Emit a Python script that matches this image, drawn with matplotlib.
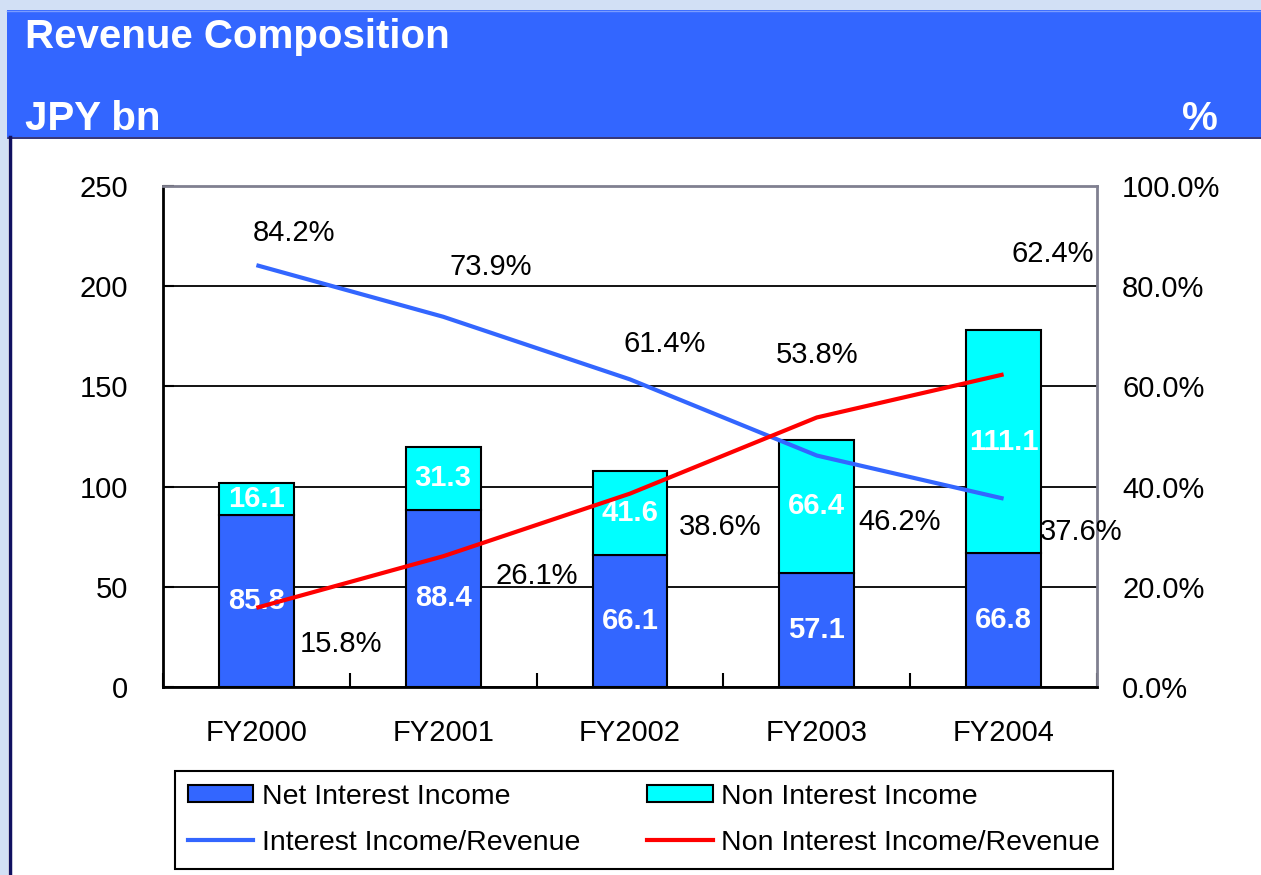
import matplotlib
matplotlib.use("Agg")
import matplotlib.pyplot as plt
from matplotlib.patches import Rectangle, Patch
from matplotlib.lines import Line2D
from matplotlib.ticker import FixedLocator, FuncFormatter

plt.rcParams['font.family'] = ['Liberation Sans', 'DejaVu Sans']

# ---- data ----
categories = ["FY2000", "FY2001", "FY2002", "FY2003", "FY2004"]
net_interest_income = [85.8, 88.4, 66.1, 57.1, 66.8]
non_interest_income = [16.1, 31.3, 41.6, 66.4, 111.1]
interest_ratio = [84.2, 73.9, 61.4, 46.2, 37.6]
non_interest_ratio = [15.8, 26.1, 38.6, 53.8, 62.4]
left_ticks = [0, 50, 100, 150, 200, 250]
right_ticks = [0, 20, 40, 60, 80, 100]

# label offsets (pixels) for percentage labels
interest_label_offsets = [(38, 32), (48, 50), (35, 35), (83, -66), (78, -33)]
non_interest_label_offsets = [(85, -36), (94, -20), (90, -33), (0, 62), (49, 120)]

W, H = 1261, 875
fig = plt.figure(figsize=(W / 100, H / 100), dpi=100)
fig.patch.set_facecolor('#D2E0F5')

BLUE = '#3366FF'
CYAN = '#00FFFF'
RED = '#FF0000'

def fx(px):
    return px / W

def fy(py):
    return 1 - py / H

# header and white panel
fig.add_artist(Rectangle((fx(7), fy(137)), 1 - fx(7), fy(10) - fy(137),
                         transform=fig.transFigure, facecolor=BLUE, edgecolor='none', zorder=0))
fig.add_artist(Line2D([fx(7), 1], [fy(10.5), fy(10.5)], transform=fig.transFigure,
                      color='#7A9CFF', lw=1, zorder=1))
fig.add_artist(Rectangle((fx(8), 0), 1 - fx(8), fy(137),
                         transform=fig.transFigure, facecolor='white', edgecolor='none', zorder=0))
fig.add_artist(Line2D([fx(9.5), fx(9.5)], [0, fy(137)], transform=fig.transFigure,
                      color='#101060', lw=2.5, zorder=1))
fig.add_artist(Line2D([fx(8), 1], [fy(137.5), fy(137.5)], transform=fig.transFigure,
                      color='#101060', lw=1.2, zorder=1))

fig.text(fx(25), fy(48), "Revenue Composition", color='white', fontsize=29,
         fontweight='bold', ha='left', va='baseline')
fig.text(fx(25), fy(130), "JPY bn", color='white', fontsize=29,
         fontweight='bold', ha='left', va='baseline')
fig.text(fx(1218), fy(130), "%", color='white', fontsize=29,
         fontweight='bold', ha='right', va='baseline')

# main axes
ax = fig.add_axes([fx(163), fy(687), fx(1097) - fx(163), fy(186) - fy(687)])
ax.set_facecolor('white')
x = list(range(len(categories)))
bar_w = 0.4
ax.bar(x, net_interest_income, width=bar_w, color=BLUE, edgecolor='black',
       linewidth=1.5, zorder=3)
ax.bar(x, non_interest_income, width=bar_w, bottom=net_interest_income,
       color=CYAN, edgecolor='black', linewidth=1.5, zorder=3)
for i in x:
    ax.text(i, net_interest_income[i] / 2, f"{net_interest_income[i]:.1f}",
            ha='center', va='center', color='white', fontsize=21, fontweight='bold', zorder=4)
    ax.text(i, net_interest_income[i] + non_interest_income[i] / 2,
            f"{non_interest_income[i]:.1f}", ha='center', va='center', color='white',
            fontsize=21, fontweight='bold', zorder=4)

ax.set_xlim(-0.5, len(categories) - 0.5)
ax.set_ylim(0, 250)
ax.yaxis.set_major_locator(FixedLocator(left_ticks))
ax.set_yticklabels([str(t) for t in left_ticks])
ax.set_xticks(x)
ax.set_xticklabels(categories)
ax.xaxis.set_minor_locator(FixedLocator([i - 0.5 for i in range(len(categories) + 1)]))
ax.tick_params(axis='x', which='major', length=0, pad=23, labelsize=21)
ax.tick_params(axis='x', which='minor', direction='in', length=10, width=1.5, color='black')
ax.tick_params(axis='y', direction='in', length=8, width=1.5, pad=25, labelsize=21)
ax.grid(axis='y', color='black', linewidth=1.3, zorder=1)
ax.set_axisbelow(True)
for s in ['left', 'bottom']:
    ax.spines[s].set_color('black')
    ax.spines[s].set_linewidth(2)
for s in ['top', 'right']:
    ax.spines[s].set_color('#808090')
    ax.spines[s].set_linewidth(2)

ax2 = ax.twinx()
ax2.set_ylim(0, 100)
ax2.yaxis.set_major_locator(FixedLocator(right_ticks))
ax2.yaxis.set_major_formatter(FuncFormatter(lambda v, p: f"{v:.1f}%"))
ax2.tick_params(axis='y', length=0, pad=18, labelsize=21)
for s in ax2.spines.values():
    s.set_visible(False)

ax2.plot(x, interest_ratio, color=BLUE, lw=3, solid_capstyle='butt', zorder=5)
ax2.plot(x, non_interest_ratio, color=RED, lw=3, solid_capstyle='butt', zorder=5)
for i in x:
    dx, dy = interest_label_offsets[i]
    ax2.annotate(f"{interest_ratio[i]:.1f}%", (i, interest_ratio[i]), xytext=(dx, dy),
                 textcoords='offset pixels', ha='center', va='center', fontsize=21,
                 color='black', annotation_clip=False, zorder=6)
    dx, dy = non_interest_label_offsets[i]
    ax2.annotate(f"{non_interest_ratio[i]:.1f}%", (i, non_interest_ratio[i]), xytext=(dx, dy),
                 textcoords='offset pixels', ha='center', va='center', fontsize=21,
                 color='black', annotation_clip=False, zorder=6)

handles = [
    Patch(facecolor=BLUE, edgecolor='black', linewidth=1.5, label='Net Interest Income'),
    Line2D([], [], color=BLUE, lw=3, label='Interest Income/Revenue'),
    Patch(facecolor=CYAN, edgecolor='black', linewidth=1.5, label='Non Interest Income'),
    Line2D([], [], color=RED, lw=3, label='Non Interest Income/Revenue'),
]
leg = fig.legend(handles=handles, ncol=2, loc='upper left',
                 bbox_to_anchor=(fx(175), fy(870), fx(1113) - fx(175), fy(771) - fy(870)),
                 mode='expand', fontsize=20.5, frameon=True, fancybox=False,
                 edgecolor='black', framealpha=1, handlelength=2.3, handleheight=0.55,
                 handletextpad=0.3, borderaxespad=0, borderpad=0.45, labelspacing=0.7,
                 columnspacing=1.0)
leg.get_frame().set_linewidth(1.5)

fig.savefig("out.png", dpi=100, facecolor=fig.get_facecolor())
